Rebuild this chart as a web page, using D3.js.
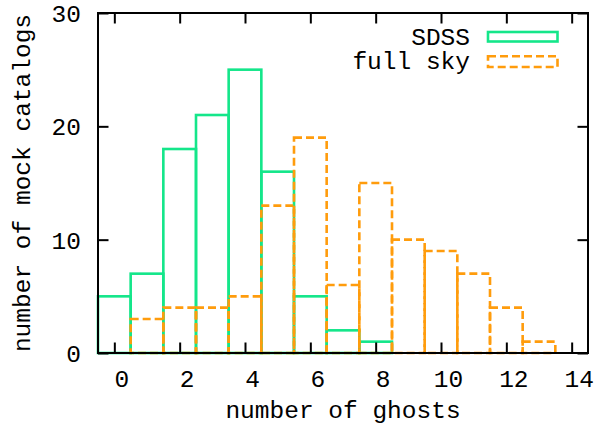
<!DOCTYPE html>
<html>
<head>
<meta charset="utf-8">
<script src="https://cdn.jsdelivr.net/npm/d3@7"></script>
<style>
  html, body { margin: 0; padding: 0; background: #fff; }
  svg { display: block; }
  text { font-family: "Liberation Mono", "DejaVu Sans Mono", monospace; fill: #000; }
</style>
</head>
<body>
<svg id="chart" width="602" height="423"></svg>
<script>
// ---- data ----
const bins = [0, 1, 2, 3, 4, 5, 6, 7, 8, 9, 10, 11, 12, 13];
const sdssValues = [5, 7, 18, 21, 25, 16, 5, 2, 1, 0, 0, 0, 0, 0];
const fullSkyValues = [0, 3, 4, 4, 5, 13, 19, 6, 15, 10, 9, 7, 4, 1];
const xTickValues = [0, 2, 4, 6, 8, 10, 12, 14];
const yTickValues = [0, 10, 20, 30];
const seriesNames = ["SDSS", "full sky"];
const xTitle = "number of ghosts";
const yTitle = "number of mock catalogs";

// ---- layout ----
const mLeft = 98, mRight = 588, mTop = 13, mBottom = 353;
const green = "#14e68a";
const orange = "#ff9c0c";
const fontSize = 24.5;

const svg = d3.select("#chart");
const x = d3.scaleLinear().domain([-0.5, 14.5]).range([mLeft, mRight]);
const y = d3.scaleLinear().domain([0, 30]).range([mBottom, mTop]);

// bars
function drawBoxes(values, color, dash) {
  svg.append("g").selectAll("rect")
    .data(bins)
    .join("rect")
    .attr("x", d => x(d - 0.5))
    .attr("width", d => x(d + 0.5) - x(d - 0.5))
    .attr("y", d => y(values[d]))
    .attr("height", d => y(0) - y(values[d]))
    .attr("fill", "none")
    .attr("stroke", color)
    .attr("stroke-width", 2.6)
    .attr("stroke-dasharray", dash);
}
drawBoxes(sdssValues, green, null);
drawBoxes(fullSkyValues, orange, "8,4");

// axes (ticks inside on all four sides)
const tickLen = 10.5;
const axB = svg.append("g").attr("transform", `translate(0,${mBottom})`)
  .call(d3.axisBottom(x).tickValues(xTickValues).tickSizeInner(-tickLen).tickSizeOuter(0));
const axT = svg.append("g").attr("transform", `translate(0,${mTop})`)
  .call(d3.axisTop(x).tickValues(xTickValues).tickSizeInner(-tickLen).tickSizeOuter(0).tickFormat(""));
const axL = svg.append("g").attr("transform", `translate(${mLeft},0)`)
  .call(d3.axisLeft(y).tickValues(yTickValues).tickSizeInner(-tickLen).tickSizeOuter(0));
const axR = svg.append("g").attr("transform", `translate(${mRight},0)`)
  .call(d3.axisRight(y).tickValues(yTickValues).tickSizeInner(-tickLen).tickSizeOuter(0).tickFormat(""));

[axB, axT, axL, axR].forEach(a => {
  a.select(".domain").remove();
  a.selectAll(".tick line").attr("stroke", "#000").attr("stroke-width", 2);
  a.selectAll(".tick text")
    .style("font-family", '"Liberation Mono", monospace')
    .style("font-size", fontSize + "px")
    .attr("fill", "#000");
});
axB.selectAll(".tick text").attr("dx", 7).attr("dy", null).attr("y", 34);
axL.selectAll(".tick text").attr("x", -17).attr("dy", "0.35em");

// border
svg.append("rect")
  .attr("x", mLeft).attr("y", mTop)
  .attr("width", mRight - mLeft).attr("height", mBottom - mTop)
  .attr("fill", "none").attr("stroke", "#000").attr("stroke-width", 2);

// axis titles
svg.append("text")
  .attr("x", (mLeft + mRight) / 2).attr("y", 418)
  .attr("text-anchor", "middle")
  .style("font-size", fontSize + "px")
  .text(xTitle);
svg.append("text")
  .attr("transform", `translate(30,${(mTop + mBottom) / 2}) rotate(-90)`)
  .attr("text-anchor", "middle")
  .style("font-size", fontSize + "px")
  .text(yTitle);

// legend
const legend = svg.append("g");
const legendRows = [
  { name: seriesNames[0], color: green, dash: null, ty: 45, ry: 32, rh: 9.5 },
  { name: seriesNames[1], color: orange, dash: "8,4", ty: 69, ry: 56.3, rh: 10.7 }
];
legendRows.forEach(r => {
  legend.append("text")
    .attr("x", 470).attr("y", r.ty)
    .attr("text-anchor", "end")
    .style("font-size", fontSize + "px")
    .text(r.name);
  legend.append("rect")
    .attr("x", 488).attr("y", r.ry)
    .attr("width", 69.5).attr("height", r.rh)
    .attr("fill", "none")
    .attr("stroke", r.color).attr("stroke-width", 2.6)
    .attr("stroke-dasharray", r.dash);
});
</script>
</body>
</html>
